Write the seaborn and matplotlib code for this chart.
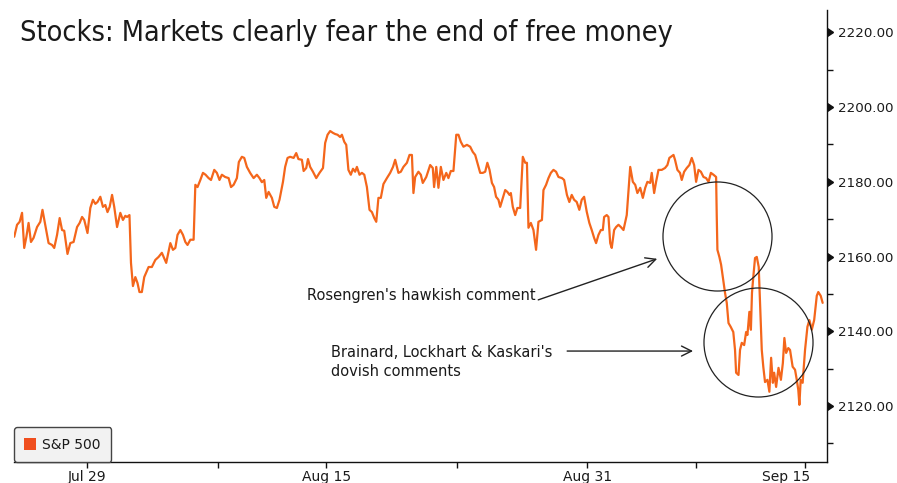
import matplotlib
matplotlib.use("Agg")
import matplotlib.pyplot as plt
import matplotlib.markers as mmarkers
from matplotlib.patches import Patch
from matplotlib.ticker import MultipleLocator, FixedLocator, FuncFormatter
import matplotlib.transforms as mtrans
import seaborn as sns
import pandas as pd

# ---- data: trading-day index (0 = Jul 29) and S&P 500 level ----
day_index = [
    -3.36, -3.23, -3.11, -3.00, -2.90, -2.80, -2.70, -2.59, -2.47, -2.31,
    -2.16, -2.06, -1.89, -1.78, -1.62, -1.52, -1.39, -1.27, -1.16, -1.06,
    -0.91, -0.78, -0.63, -0.47, -0.35, -0.24, -0.14, 0.01, 0.14, 0.26,
    0.37, 0.47, 0.60, 0.72, 0.83, 0.93, 1.03, 1.14, 1.24, 1.37,
    1.52, 1.64, 1.75, 1.83, 1.94, 2.01, 2.10, 2.21, 2.31, 2.40,
    2.51, 2.62, 2.82, 2.97, 3.13, 3.28, 3.43, 3.63, 3.82, 3.94,
    4.05, 4.15, 4.28, 4.40, 4.51, 4.61, 4.74, 4.89, 4.97, 5.07,
    5.20, 5.32, 5.44, 5.58, 5.69, 5.84, 5.96, 6.08, 6.19, 6.34,
    6.50, 6.61, 6.73, 6.88, 6.97, 7.11, 7.22, 7.34, 7.49, 7.65,
    7.80, 7.92, 8.03, 8.14, 8.23, 8.34, 8.49, 8.60, 8.72, 8.84,
    9.00, 9.10, 9.21, 9.33, 9.49, 9.61, 9.71, 9.87, 9.95, 10.07,
    10.15, 10.25, 10.38, 10.53, 10.68, 10.84, 10.94, 11.05, 11.17, 11.30,
    11.40, 11.51, 11.63, 11.71, 11.82, 11.91, 12.01, 12.12, 12.22, 12.32,
    12.40, 12.52, 12.63, 12.74, 12.86, 12.98, 13.09, 13.20, 13.29, 13.39,
    13.50, 13.62, 13.78, 13.93, 14.06, 14.16, 14.31, 14.42, 14.54, 14.70,
    14.82, 14.93, 15.00, 15.08, 15.23, 15.34, 15.43, 15.59, 15.77, 15.89,
    15.95, 16.05, 16.15, 16.26, 16.38, 16.51, 16.61, 16.72, 16.84, 16.97,
    17.07, 17.18, 17.30, 17.46, 17.61, 17.73, 17.84, 17.94, 18.07, 18.19,
    18.30, 18.40, 18.50, 18.61, 18.71, 18.80, 18.91, 18.99, 19.11, 19.22,
    19.32, 19.42, 19.48, 19.57, 19.68, 19.78, 19.91, 20.03, 20.14, 20.22,
    20.29, 20.40, 20.52, 20.64, 20.75, 20.91, 20.98, 21.10, 21.21, 21.32,
    21.44, 21.56, 21.67, 21.83, 21.93, 22.06, 22.17, 22.28, 22.39, 22.51,
    22.63, 22.74, 22.85, 22.97, 23.09, 23.20, 23.31, 23.40, 23.51, 23.62,
    23.71, 23.77, 23.89, 23.97, 24.05, 24.12, 24.23, 24.32, 24.43, 24.54,
    24.66, 24.81, 24.97, 25.09, 25.20, 25.30, 25.43, 25.55, 25.66, 25.76,
    25.89, 25.96, 26.07, 26.16, 26.27, 26.42, 26.57, 26.68, 26.77, 26.96,
    27.03, 27.14, 27.26, 27.34, 27.45, 27.57, 27.69, 27.80, 27.91, 28.00,
    28.11, 28.22, 28.34, 28.46, 28.57, 28.68, 28.80, 28.92, 28.95, 28.98,
    29.07, 29.15, 29.23, 29.33, 29.41, 29.49, 29.59, 29.71, 29.79, 29.84,
    29.95, 30.02, 30.10, 30.21, 30.30, 30.36, 30.45, 30.52, 30.57, 30.63,
    30.71, 30.79, 30.88, 30.94, 31.02, 31.09, 31.17, 31.28, 31.37, 31.45,
    31.53, 31.59, 31.68, 31.79, 31.90, 31.99, 32.06, 32.14, 32.24, 32.32,
    32.44, 32.55, 32.63, 32.70, 32.75, 32.81, 32.90, 33.01, 33.12, 33.21,
    33.32, 33.43, 33.55, 33.62, 33.73, 33.82,
]

spx_level = [
    2165.3, 2168.5, 2169.3, 2171.7, 2162.3, 2165.3, 2169.0, 2163.9, 2165.0, 2167.9,
    2169.3, 2172.5, 2167.1, 2163.6, 2163.1, 2162.3, 2165.8, 2170.3, 2167.1, 2166.9,
    2160.7, 2163.6, 2163.9, 2167.9, 2169.0, 2170.6, 2169.8, 2166.3, 2173.0, 2175.2,
    2174.1, 2174.6, 2176.0, 2173.3, 2173.8, 2171.9, 2173.3, 2176.5, 2173.3, 2167.9,
    2171.7, 2169.8, 2170.9, 2170.6, 2171.1, 2158.3, 2152.1, 2154.5, 2152.9, 2150.5,
    2150.5, 2154.5, 2157.2, 2157.2, 2159.1, 2159.9, 2161.0, 2158.3, 2163.6, 2161.8,
    2162.3, 2165.8, 2167.1, 2165.8, 2163.9, 2163.1, 2164.5, 2164.5, 2179.2, 2178.6,
    2180.5, 2182.4, 2181.9, 2181.0, 2180.5, 2183.2, 2182.4, 2180.5, 2181.9, 2181.3,
    2181.0, 2178.6, 2179.2, 2181.0, 2185.3, 2186.7, 2186.4, 2184.0, 2182.4, 2181.0,
    2181.9, 2181.0, 2179.9, 2180.5, 2175.7, 2177.3, 2175.7, 2173.3, 2173.0, 2175.2,
    2180.0, 2184.0, 2186.4, 2186.7, 2186.4, 2187.7, 2186.1, 2185.9, 2182.9, 2183.7,
    2186.1, 2184.0, 2182.7, 2181.0, 2182.4, 2183.7, 2190.4, 2192.6, 2193.6, 2193.1,
    2192.8, 2192.6, 2192.0, 2192.6, 2190.7, 2189.9, 2183.2, 2181.9, 2183.5, 2182.7,
    2184.0, 2181.9, 2182.4, 2181.9, 2178.6, 2172.5, 2171.9, 2170.3, 2169.3, 2175.7,
    2175.7, 2179.4, 2181.0, 2182.4, 2184.0, 2185.9, 2182.4, 2182.7, 2184.0, 2185.1,
    2187.2, 2187.2, 2177.0, 2181.3, 2182.7, 2181.9, 2179.7, 2181.3, 2184.5, 2183.7,
    2178.6, 2184.0, 2178.4, 2184.0, 2180.5, 2182.4, 2181.0, 2182.9, 2182.9, 2192.6,
    2192.6, 2190.7, 2189.4, 2189.9, 2189.4, 2188.0, 2187.2, 2185.1, 2182.4, 2182.4,
    2182.7, 2185.1, 2183.2, 2179.7, 2178.6, 2176.0, 2175.2, 2173.3, 2175.7, 2177.8,
    2177.3, 2176.5, 2177.0, 2173.3, 2171.1, 2173.0, 2173.0, 2186.7, 2185.1, 2185.1,
    2167.7, 2169.0, 2167.1, 2161.8, 2169.3, 2169.8, 2177.8, 2179.2, 2181.0, 2182.4,
    2183.2, 2182.7, 2181.3, 2181.0, 2180.5, 2176.5, 2174.6, 2176.5, 2175.2, 2174.6,
    2172.5, 2175.2, 2176.0, 2172.0, 2169.0, 2167.1, 2165.0, 2163.6, 2165.8, 2167.1,
    2167.1, 2170.6, 2171.1, 2170.6, 2163.6, 2162.3, 2167.1, 2167.9, 2168.5, 2167.9,
    2167.1, 2171.1, 2184.0, 2180.0, 2179.2, 2177.0, 2178.4, 2175.7, 2178.4, 2180.0,
    2179.7, 2182.4, 2177.0, 2180.0, 2183.2, 2183.2, 2183.7, 2184.5, 2186.4, 2187.2,
    2185.9, 2183.2, 2182.4, 2180.5, 2182.7, 2183.7, 2184.5, 2186.4, 2184.5, 2180.0,
    2183.2, 2182.7, 2181.3, 2181.0, 2180.0, 2182.4, 2181.9, 2181.3, 2170.6, 2161.8,
    2159.9, 2157.8, 2154.5, 2150.3, 2147.6, 2142.2, 2141.2, 2139.8, 2135.0, 2128.9,
    2128.3, 2135.0, 2136.9, 2136.3, 2139.8, 2139.0, 2145.2, 2140.4, 2150.3, 2154.5,
    2159.6, 2159.9, 2157.2, 2147.6, 2135.0, 2130.5, 2126.4, 2127.0, 2123.8, 2132.9,
    2126.2, 2128.9, 2125.1, 2130.2, 2127.0, 2131.5, 2138.2, 2134.2, 2135.5, 2135.0,
    2130.5, 2129.7, 2127.0, 2124.3, 2120.3, 2127.0, 2126.2, 2135.0, 2141.2, 2143.0,
    2140.4, 2143.0, 2149.5, 2150.5, 2149.5, 2147.6,
]

major_tick_days = [0, 11, 23, 33]
major_tick_labels = ["Jul 29", "Aug 15", "Aug 31", "Sep 15"]
minor_tick_days = [6, 17, 28]

series_name = "S&P 500"
title_text = "Stocks: Markets clearly fear the end of free money"
note_hawkish = "Rosengren's hawkish comment"
note_dovish = "Brainard, Lockhart & Kaskari's\ndovish comments"

# annotation anchors (in data units: trading day, index level)
circle_centers = [(28.97, 2165.4), (30.84, 2137.1)]
hawk_text_pos = (20.60, 2149.5)
hawk_arrow = ((20.74, 2148.4), (26.21, 2159.4))
dove_text_pos = (11.22, 2131.8)
dove_arrow = ((22.07, 2134.7), (27.86, 2134.7))

# ---- styling ----
sns.set_style("white")
plt.rcParams["font.family"] = ["DejaVu Sans"]
LINE_COLOR = "#f4661b"
TEXT_COLOR = "#1a1a1a"

W, H = 897, 483
fig = plt.figure(figsize=(W / 100, H / 100), dpi=100)
ax = fig.add_axes([14 / W, 21 / H, 813 / W, 452 / H])

df = pd.DataFrame({"day": day_index, "level": spx_level})
sns.lineplot(data=df, x="day", y="level", ax=ax, color=LINE_COLOR,
             linewidth=1.6, estimator=None, sort=False)

ax.set_xlim(-3.37, 34.02)
ax.set_ylim(2105.0, 2226.0)
ax.set_xlabel("")
ax.set_ylabel("")

for side in ["left", "top"]:
    ax.spines[side].set_visible(False)
for side in ["right", "bottom"]:
    ax.spines[side].set_visible(True)
    ax.spines[side].set_color("#111111")
    ax.spines[side].set_linewidth(1.0)

# x ticks
ax.xaxis.set_major_locator(FixedLocator(major_tick_days))
ax.xaxis.set_minor_locator(FixedLocator(minor_tick_days))
ax.set_xticks(major_tick_days)
ax.set_xticklabels(major_tick_labels)
ax.tick_params(axis="x", which="both", direction="out", length=4, width=1,
               color="#111111", labelsize=10, labelcolor=TEXT_COLOR, pad=2,
               bottom=True)
lbls = ax.get_xticklabels()
lbls[-1].set_transform(lbls[-1].get_transform() +
                       mtrans.ScaledTranslation(-19 / 100, 0, fig.dpi_scale_trans))

# y ticks on right
ax.yaxis.tick_right()
ax.yaxis.set_major_locator(MultipleLocator(20))
ax.yaxis.set_minor_locator(MultipleLocator(10))
ax.yaxis.set_major_formatter(FuncFormatter(lambda v, p: f"{v:.2f}"))
ax.tick_params(axis="y", which="major", direction="out", length=6, width=1,
               color="#111111", labelsize=9.6, labelcolor=TEXT_COLOR, pad=2,
               right=True, left=False)
ax.tick_params(axis="y", which="minor", direction="out", length=4, width=1,
               color="#111111", right=True, left=False)
for t in ax.yaxis.get_major_ticks():
    t.tick2line.set_marker(mmarkers.CARETRIGHTBASE)
    t.tick2line.set_markersize(5.5)
    t.tick2line.set_markerfacecolor("#111111")

# circles and annotations
for cx, cy in circle_centers:
    ax.plot([cx], [cy], marker="o", markersize=78.5, markerfacecolor="none",
            markeredgecolor="#222222", markeredgewidth=0.9, clip_on=False)

ax.text(*hawk_text_pos, note_hawkish, ha="right", va="center",
        fontsize=10.5, color=TEXT_COLOR)
ax.text(*dove_text_pos, note_dovish, ha="left", va="center",
        fontsize=10.5, color=TEXT_COLOR, linespacing=1.3)
arrow_style = dict(arrowstyle="->", color="#222222", lw=1.0,
                   mutation_scale=18, shrinkA=0, shrinkB=0)
ax.annotate("", xy=hawk_arrow[1], xytext=hawk_arrow[0], arrowprops=arrow_style)
ax.annotate("", xy=dove_arrow[1], xytext=dove_arrow[0], arrowprops=arrow_style)

# legend
handle = Patch(facecolor="#f04e1e", edgecolor="none", label=series_name)
leg = ax.legend(handles=[handle], loc="lower left", bbox_to_anchor=(0, 0),
                borderaxespad=0, frameon=True, fancybox=True, fontsize=10,
                handlelength=0.8, handleheight=0.9, handletextpad=0.5,
                borderpad=0.75)
frame = leg.get_frame()
frame.set_facecolor("#f2f2f2")
frame.set_edgecolor("#444444")
frame.set_linewidth(1.0)
frame.set_alpha(1)
for txt in leg.get_texts():
    txt.set_color(TEXT_COLOR)

# title
fig.text(20 / W, 1 - 33 / H, title_text, ha="left", va="center",
         fontsize=20.6, color=TEXT_COLOR, fontstretch="condensed")

fig.savefig("out.png", dpi=100, facecolor="white")
